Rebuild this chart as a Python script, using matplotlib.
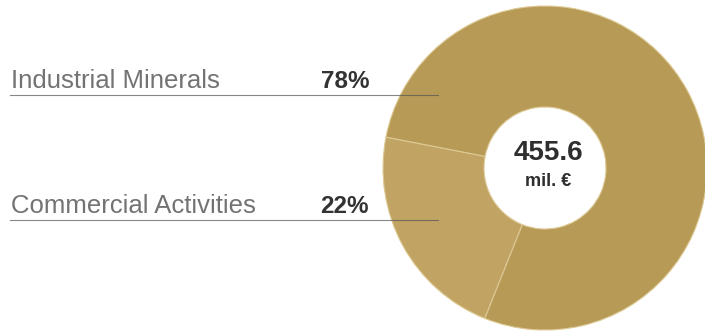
import matplotlib.pyplot as plt

# data
labels = ["Commercial Activities", "Industrial Minerals"]
shares = [22, 78]
pct_labels = ["22%", "78%"]
colors = ["#c1a463", "#b89a57"]
total_text = "455.6"
unit_text = "mil. €"

plt.rcParams['font.family'] = ['Liberation Sans', 'DejaVu Sans']

fig = plt.figure(figsize=(7.05, 3.34), dpi=100)
ax = fig.add_axes([0, 0, 1, 1])

cx, cy, R = 545, 166, 162
ax.pie(shares, colors=colors, startangle=169, counterclock=True,
       center=(cx, cy), radius=R, frame=True,
       wedgeprops=dict(width=R - 61, edgecolor='#dcc994', linewidth=0.8))
ax.set_xlim(0, 705)
ax.set_ylim(0, 334)
ax.set_aspect('equal')
ax.axis('off')

# label rows, bottom row first
rows_y = [121, 246]
for lab, pct, y in zip(labels, pct_labels, rows_y):
    ax.text(11, y, lab, fontsize=18.5, color='#737373', ha='left',
            va='baseline')
    ax.text(369, y, pct, fontsize=17.5, fontweight='bold', color='#333333',
            ha='right', va='baseline')
    ax.plot([10, 438], [y - 7, y - 7], color='#555555', lw=0.8, alpha=0.7,
            zorder=5)

ax.text(548, 181, total_text, fontsize=20, fontweight='bold',
        color='#2e2e2e', ha='center', va='center')
ax.text(548, 152, unit_text, fontsize=13, fontweight='bold',
        color='#2e2e2e', ha='center', va='center')

fig.savefig('out.png', dpi=100)
